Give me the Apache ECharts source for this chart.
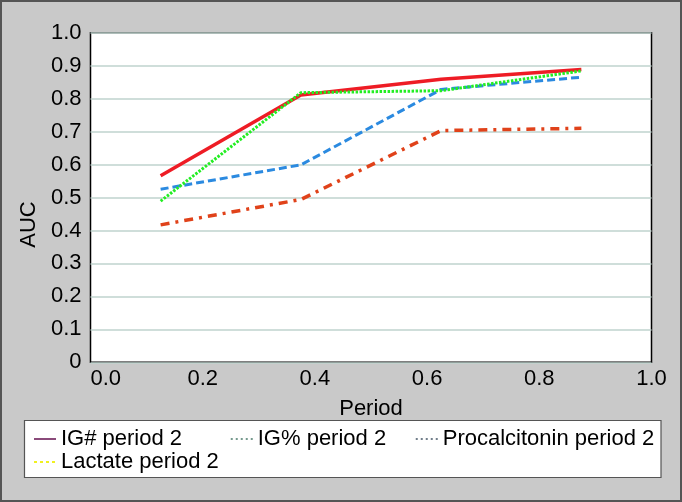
<!DOCTYPE html>
<html>
<head>
<meta charset="utf-8">
<script src="https://cdn.jsdelivr.net/npm/echarts@6/dist/echarts.min.js"></script>
<style>html,body{margin:0;padding:0;background:#c9c9c9;}#c{width:682px;height:502px;}</style>
</head>
<body>
<div id="c"></div>
<script>
const periods = [0.125, 0.375, 0.625, 0.875];
const igAbs = [0.566, 0.811, 0.859, 0.888];
const igPct = [0.525, 0.599, 0.828, 0.865];
const procalcitonin = [0.417, 0.494, 0.703, 0.710];
const lactate = [0.489, 0.818, 0.824, 0.884];
const seriesNames = ['IG# period 2', 'IG% period 2', 'Procalcitonin period 2', 'Lactate period 2'];
const xTicks = [0, 0.2, 0.4, 0.6, 0.8, 1.0];
const yTicks = [0, 0.1, 0.2, 0.3, 0.4, 0.5, 0.6, 0.7, 0.8, 0.9, 1.0];

const FONT = 'Liberation Sans, Arial, sans-serif';
const pair = (xs, ys) => xs.map((x, i) => [x, ys[i]]);

const chart = echarts.init(document.getElementById('c'), null, {renderer: 'canvas'});

function legendItem(name, left, top, color, type, width) {
  return {
    show: true, left: left, top: top, padding: 0, orient: 'horizontal',
    itemWidth: 22, itemHeight: 14, z: 5,
    textStyle: {fontFamily: FONT, fontSize: 22, color: '#000'},
    data: [{name: name, lineStyle: {color: color, type: type, width: width},
            itemStyle: {opacity: 0, borderWidth: 0}}],
    selectedMode: false
  };
}

chart.setOption({
  backgroundColor: '#c9c9c9',
  animation: false,
  grid: {left: 90.5, right: 30.5, top: 32.7, bottom: 139.7, show: true, borderColor: '#000', borderWidth: 1.5, backgroundColor: '#fff', containLabel: false},
  xAxis: {
    type: 'value', min: 0, max: 1, interval: 0.2,
    name: 'Period', nameLocation: 'middle', nameGap: 36,
    nameTextStyle: {fontFamily: FONT, fontSize: 22, color: '#000'},
    axisLine: {show: false}, axisTick: {show: false}, splitLine: {show: false},
    axisLabel: {fontFamily: FONT, fontSize: 22, color: '#000', margin: 6, alignMinLabel: 'left',
      formatter: v => xTicks.includes(Math.round(v * 10) / 10) ? v.toFixed(1) : ''}
  },
  yAxis: {
    type: 'value', min: 0, max: 1, interval: 0.1,
    name: 'AUC', nameLocation: 'middle', nameGap: 48, nameRotate: 90,
    nameTextStyle: {fontFamily: FONT, fontSize: 22, color: '#000', padding: [0, 54, 0, 0]},
    axisLine: {show: false}, axisTick: {show: false},
    splitLine: {show: true, lineStyle: {color: '#bfd3ce', width: 1.6}},
    axisLabel: {fontFamily: FONT, fontSize: 22, color: '#000', margin: 9,
      formatter: v => { const r = Math.round(v * 10) / 10; return r === 0 ? '0' : r.toFixed(1); }}
  },
  legend: [
    legendItem(seriesNames[0], 33, 428, '#8a4a7a', 'solid', 2),
    legendItem(seriesNames[1], 230, 428, '#4a7a6a', [2, 3], 1.5),
    legendItem(seriesNames[2], 415, 428, '#445566', [2, 3], 1.5),
    legendItem(seriesNames[3], 33, 451, '#f0f020', [3, 3], 2)
  ],
  graphic: [
    {type: 'rect', z: 0, shape: {x: 1, y: 1, width: 680, height: 500}, style: {fill: 'none', stroke: '#555', lineWidth: 2}},
    {type: 'rect', z: 0, shape: {x: 24.5, y: 420.5, width: 636.5, height: 57}, style: {fill: '#fff', stroke: '#555', lineWidth: 1.2}}
  ],
  series: [
    {name: seriesNames[0], type: 'line', symbol: 'none', data: pair(periods, igAbs),
      lineStyle: {color: '#ee1c25', width: 3.5, type: 'solid'}, itemStyle: {color: '#ee1c25'}},
    {name: seriesNames[1], type: 'line', symbol: 'none', data: pair(periods, igPct),
      lineStyle: {color: '#2b8ae0', width: 3, type: [8, 4]}, itemStyle: {color: '#2b8ae0'}},
    {name: seriesNames[2], type: 'line', symbol: 'none', data: pair(periods, procalcitonin),
      lineStyle: {color: '#e0421a', width: 3.5, type: [9, 6, 3, 6]}, itemStyle: {color: '#e0421a'}},
    {name: seriesNames[3], type: 'line', symbol: 'none', data: pair(periods, lactate),
      lineStyle: {color: '#22ee22', width: 3, type: [2.5, 1.5]}, itemStyle: {color: '#22ee22'}}
  ]
});
</script>
</body>
</html>
